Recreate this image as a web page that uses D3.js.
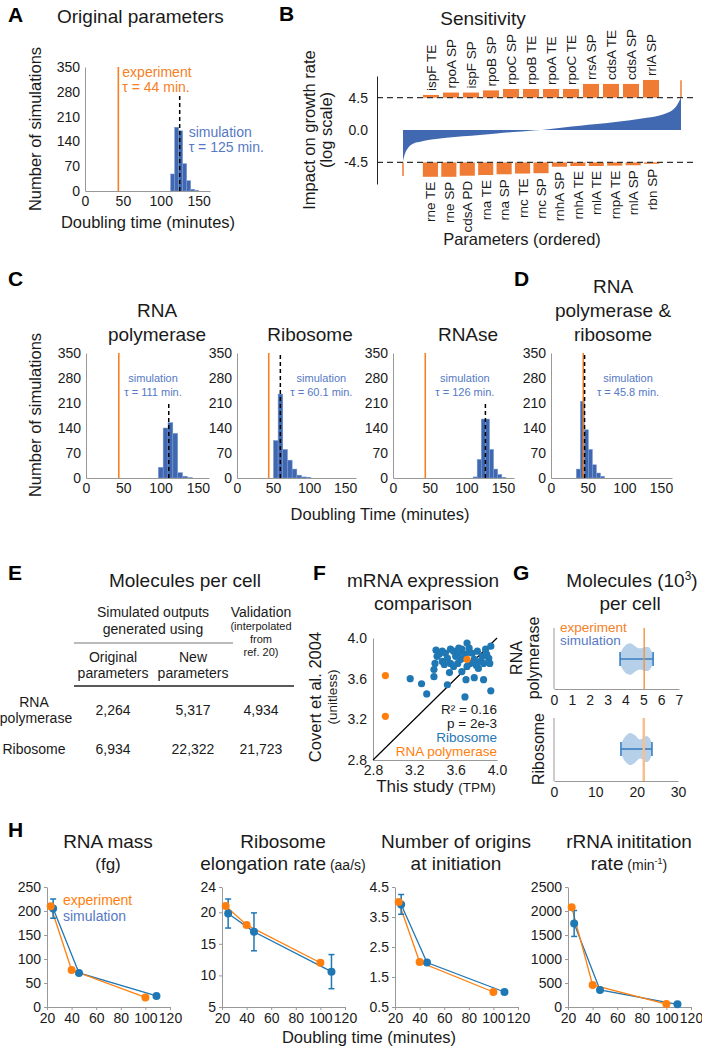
<!DOCTYPE html>
<html><head><meta charset="utf-8">
<script src="https://cdn.jsdelivr.net/npm/d3@7"></script>
<style>
body{margin:0;background:#fff;}
svg{display:block;font-family:"Liberation Sans",Arial,Helvetica,sans-serif;}
</style></head>
<body><svg id="fig" width="702" height="1050"></svg>
<script>
// ---------------- DATA ----------------
const histTicksY = [0,70,140,210,280,350];
const histTicksX = [0,50,100,150];
const experimentTau = 44;

const origEdges = [113,118.3,123.6,128.9,134.2,139.5,144.8,150.1];
const origCounts = [48,180,170,77,29,5,2];
const origMean = 125;

const rnapEdges = [97,103.5,110,116.5,123,129.5,136,142.5];
const rnapCounts = [30,140,155,125,15,5,1];
const rnapMean = 111;

const riboEdges = [50.5,57,63.5,70,76.5,83,89.5,96,102.5];
const riboCounts = [105,235,80,50,25,8,3,2];
const riboMean = 60.1;

const rnaseEdges = [109.2,114.8,120.4,126,131.6,137.2,142.8,148.4,154];
const rnaseCounts = [3,52,165,165,80,25,10,2];
const rnaseMean = 126;

const bothEdges = [34.5,40,45.5,51,56.5,62,67.5,73];
const bothCounts = [25,215,135,80,37,14,5];
const bothMean = 45.8;

// Panel B: sorted sensitivity curve
const sensRank = [0,0.6,1.8,3.6,6.6,9.6,15.6,21.6,27.6,33.7,39.7,45.7,49.9,57.7,63.7,69.7,75.7,81.7,87.7,93.8,97.4,99.2,100];
const sensImpact = [-4.3,-3.4,-2.5,-1.9,-1.6,-1.35,-1.06,-0.87,-0.68,-0.48,-0.29,-0.1,0,0.34,0.58,0.82,1.06,1.35,1.7,2.2,2.9,3.9,4.6];
const sensEdgeRank = [0,100];
const sensEdgeImpact = [-6.4,6.9];
const sensThreshold = 4.5;
const sensTicks = [-4.5,0,4.5];
const topParams = ["ispF TE","rpoA SP","ispF SP","rpoB SP","rpoC SP","rpoB TE","rpoA TE","rpoC TE","rrsA SP","cdsA TE","cdsA SP","rrlA SP"];
const topImpact = [4.87,5.2,5.2,5.5,5.7,5.7,5.7,5.7,6.4,6.4,6.4,6.95];
const bottomParams = ["rne TE","rne SP","cdsA PD","rna TE","rna SP","rnc TE","rnc SP","rnhA SP","rnhA TE","rnlA TE","rnpA TE","rnlA SP","rbn SP"];
const bottomImpact = [-6.5,-6.5,-6.35,-6.25,-6.15,-6.05,-6.0,-5.1,-5.0,-5.0,-4.95,-4.9,-4.7];

// Panel E
const tableRows = ["RNA polymerase","Ribosome"];
const tableOriginal = ["2,264","6,934"];
const tableNew = ["5,317","22,322"];
const tableValidation = ["4,934","21,723"];

// Panel F
const fTicks = [2.8,3.2,3.6,4.0];
const riboX = [3.16,3.27,3.32,3.39,3.39,3.40,3.41,3.42,3.44,3.47,3.50,3.52,3.55,3.55,3.58,3.60,3.63,3.62,3.65,3.66,3.69,3.71,3.73,3.74,3.71,3.76,3.78,3.80,3.82,3.84,3.86,3.87,3.89,3.90,3.92,3.93,3.94,3.78,3.52,3.69,3.87,3.94,3.54,3.58,3.66,3.70,3.73,3.47,3.49,3.81,3.63];
const riboY = [3.60,3.55,3.45,3.62,3.69,3.75,3.88,3.82,3.84,3.87,3.85,3.80,3.89,3.75,3.87,3.82,3.85,3.75,3.79,3.89,3.84,3.95,3.90,3.75,3.72,3.85,3.79,3.73,3.70,3.77,3.82,3.75,3.89,3.84,3.80,3.75,3.92,3.61,3.54,3.42,3.59,3.48,3.66,3.72,3.67,3.59,3.86,3.77,3.74,3.87,3.90];
const rnapX = [2.92,2.92,3.71];
const rnapY = [3.63,3.23,3.79];

// Panel G
const gRnapTicks = [0,1,2,3,4,5,6,7];
const gRnapVals = [3.72,3.9,4.1,4.3,4.5,4.7,4.9,5.1,5.3,5.45,5.55];
const gRnapDens = [0.38,0.73,0.94,0.98,0.83,0.69,0.67,0.75,0.73,0.52,0.3];
const gRnapRange = [3.7,5.55];
const gRnapExp = 5.05;
const gRiboTicks = [0,10,20,30];
const gRiboVals = [16.3,17.0,17.7,18.4,19.5,20.7,21.5,22.4,23.2,23.7];
const gRiboDens = [0.33,0.7,0.9,1.0,0.87,0.6,0.65,0.82,0.65,0.25];
const gRiboRange = [16.2,23.7];
const gRiboExp = 21.72;

// Panel H
const hTicksX = [20,40,60,80,100,120];
const hExpTime = [23,40,100];
const hSimTime = [25,46,109];
const rnaMassExp = [210,77,20];
const rnaMassSim = [205,71,23];
const rnaMassErr = [20,0,0];
const elongExp = [21,18,12];
const elongSim = [19.8,16.9,10.6];
const elongErr = [2.3,3,2.7];
const originsExp = [4,2,1];
const originsSim = [3.92,1.98,1.0];
const originsErr = [0.33,0,0];
const rrnaExp = [2080,460,60];
const rrnaSim = [1740,355,55];
const rrnaErr = [270,0,0];

// ---------------- STYLE ----------------
const FONT = '"Liberation Sans", Arial, Helvetica, sans-serif';
const ORANGE = "#f58025";
const HIST_BLUE = "#4068b0";
const ANNO_BLUE = "#5579c4";
const B_ORANGE = "#ef7b35";
const B_BLUE = "#4169b2";
const M_BLUE = "#1f77b4";
const M_ORANGE = "#ff7f0e";
const AXIS = "#999";
const INK = "#1a1a1a";

const svg = d3.select("#fig");
svg.append("rect").attr("width",702).attr("height",1050).attr("fill","#fff");

function txt(g, x, y, s, o = {}) {
  const t = g.append("text").attr("x", x).attr("y", y)
    .attr("font-size", o.size || 14).attr("fill", o.fill || INK)
    .attr("text-anchor", o.anchor || "start").text(s);
  if (o.weight) t.attr("font-weight", o.weight);
  if (o.rotate) t.attr("transform", `rotate(-90,${x},${y})`);
  return t;
}
function styleAxis(sel, size, color) {
  sel.attr("font-family", FONT).attr("font-size", size);
  sel.selectAll("text").attr("fill", INK);
  sel.select(".domain").attr("stroke", color).attr("stroke-width", 1);
  sel.selectAll(".tick line").attr("stroke", color);
}
function letter(x, y, s) { txt(svg, x, y, s, {size: 21, weight: "bold", fill: "#000"}); }

// ---------------- HISTOGRAMS (A, C, D) ----------------
function histPanel(cfg) {
  const g = svg.append("g");
  const x = d3.scaleLinear().domain([0,165]).range([cfg.left, cfg.right]);
  const y = d3.scaleLinear().domain([0,350]).range([cfg.bottom, cfg.top]);
  const bins = cfg.counts.map((c, i) => ({x0: cfg.edges[i], x1: cfg.edges[i+1], c}));
  g.selectAll("rect").data(bins).join("rect")
    .attr("x", d => x(d.x0)).attr("width", d => x(d.x1) - x(d.x0))
    .attr("y", d => y(d.c)).attr("height", d => y(0) - y(d.c))
    .attr("fill", HIST_BLUE).attr("stroke", "#7d9bd3").attr("stroke-width", 0.5);
  g.append("g").attr("transform", `translate(${cfg.left},0)`)
    .call(d3.axisLeft(y).tickValues(histTicksY).tickSize(0).tickPadding(5))
    .call(s => styleAxis(s, 14, AXIS));
  g.append("g").attr("transform", `translate(0,${cfg.bottom})`)
    .call(d3.axisBottom(x).tickValues(histTicksX).tickSize(0).tickPadding(5))
    .call(s => styleAxis(s, 14, AXIS));
  g.append("line").attr("x1", x(experimentTau)).attr("x2", x(experimentTau))
    .attr("y1", y(0)).attr("y2", y(350)).attr("stroke", ORANGE).attr("stroke-width", 1.6);
  g.append("line").attr("x1", x(cfg.mean)).attr("x2", x(cfg.mean))
    .attr("y1", y(0)).attr("y2", y(cfg.meanTop)).attr("stroke", "#000")
    .attr("stroke-width", 1.5).attr("stroke-dasharray", "4,3");
  return {g, x, y};
}

// A
letter(8, 22, "A");
txt(svg, 57, 23, "Original parameters", {size: 19});
{
  const {g, x, y} = histPanel({left: 85, right: 210, top: 67, bottom: 191,
    edges: origEdges, counts: origCounts, mean: origMean, meanTop: 270});
  txt(g, x(experimentTau) + 4, y(322), "experiment", {size: 14, fill: ORANGE});
  txt(g, x(experimentTau) + 4, y(279), "τ = " + experimentTau + " min.", {size: 14, fill: ORANGE});
  txt(g, x(origMean) + 9, y(152), "simulation", {size: 14, fill: ANNO_BLUE});
  txt(g, x(origMean) + 9, y(110), "τ = " + origMean + " min.", {size: 14, fill: ANNO_BLUE});
  txt(svg, 41, 129, "Number of simulations", {size: 16.5, anchor: "middle", rotate: true});
  txt(svg, 148, 228, "Doubling time (minutes)", {size: 16.5, anchor: "middle"});
}

// C & D
letter(8, 286, "C");
letter(514, 286, "D");
const cPanels = [
  {left: 86, right: 209, edges: rnapEdges, counts: rnapCounts, mean: rnapMean, meanTop: 212, annoMin: 90, tx: 157, title: ["RNA","polymerase"]},
  {left: 237, right: 356, edges: riboEdges, counts: riboCounts, mean: riboMean, meanTop: 350, annoMin: 117, tx: 310, title: ["Ribosome"]},
  {left: 393, right: 514, edges: rnaseEdges, counts: rnaseCounts, mean: rnaseMean, meanTop: 210, annoMin: 98, tx: 468, title: ["RNAse"]},
  {left: 551, right: 672, edges: bothEdges, counts: bothCounts, mean: bothMean, meanTop: 350, annoMin: 105, tx: 613, title: ["RNA","polymerase &","ribosome"]}
];
cPanels.forEach(p => {
  const {g, x, y} = histPanel(Object.assign({top: 353, bottom: 478}, p));
  p.title.forEach((t, i) => txt(svg, p.tx, 341 - (p.title.length - 1 - i) * 24, t, {size: 19, anchor: "middle"}));
  txt(g, x(p.annoMin), y(268), "simulation", {size: 11, fill: ANNO_BLUE, anchor: "middle"});
  txt(g, x(p.annoMin), y(231), "τ = " + p.mean + " min.", {size: 11, fill: ANNO_BLUE, anchor: "middle"});
});
txt(svg, 41, 415, "Number of simulations", {size: 16.5, anchor: "middle", rotate: true});
txt(svg, 380, 520, "Doubling Time (minutes)", {size: 16.5, anchor: "middle"});

// ---------------- B ----------------
letter(279, 21, "B");
txt(svg, 483, 25, "Sensitivity", {size: 19, anchor: "middle"});
{
  const g = svg.append("g");
  const bx = d3.scaleLinear().domain([0,100]).range([403,681]);
  const by = d3.scaleLinear().domain([-7.5,7.5]).range([184,76]);
  const curve = sensRank.map((r, i) => ({r, v: sensImpact[i]}));
  g.append("path").datum(curve)
    .attr("d", d3.area().x(d => bx(d.r)).y0(by(0)).y1(d => by(d.v)).curve(d3.curveMonotoneX))
    .attr("fill", B_BLUE);
  const tb = d3.scaleBand().domain(topParams).range([421,661]).paddingInner(0.2).paddingOuter(0.1);
  const bb = d3.scaleBand().domain(bottomParams).range([421,661]).paddingInner(0.18).paddingOuter(0.1);
  const top = topParams.map((p, i) => ({p, v: topImpact[i]}));
  const bot = bottomParams.map((p, i) => ({p, v: bottomImpact[i]}));
  g.selectAll(".tb").data(top).join("rect").attr("class","tb")
    .attr("x", d => tb(d.p)).attr("width", tb.bandwidth())
    .attr("y", d => by(d.v)).attr("height", d => by(sensThreshold) - by(d.v)).attr("fill", B_ORANGE);
  g.selectAll(".bb").data(bot).join("rect").attr("class","bb")
    .attr("x", d => bb(d.p)).attr("width", bb.bandwidth())
    .attr("y", by(-sensThreshold)).attr("height", d => by(d.v) - by(-sensThreshold)).attr("fill", B_ORANGE);
  sensEdgeRank.forEach((r, i) => {
    g.append("line").attr("x1", bx(r)).attr("x2", bx(r))
      .attr("y1", by(Math.sign(sensEdgeImpact[i]) * sensThreshold)).attr("y2", by(sensEdgeImpact[i]))
      .attr("stroke", B_ORANGE).attr("stroke-width", 1.5);
  });
  top.forEach(d => txt(g, tb(d.p) + tb.bandwidth()/2 + 5, by(d.v) - 4, d.p, {size: 13.5, rotate: true}));
  bot.forEach(d => txt(g, bb(d.p) + bb.bandwidth()/2 + 5, by(d.v) + 5, d.p, {size: 13.5, rotate: true, anchor: "end"}));
  [sensThreshold, -sensThreshold].forEach(v => {
    g.append("line").attr("x1", 377).attr("x2", 693).attr("y1", by(v)).attr("y2", by(v))
      .attr("stroke", "#333").attr("stroke-width", 1.2).attr("stroke-dasharray", "6,4");
  });
  g.append("g").attr("transform", "translate(377,0)")
    .call(d3.axisLeft(by).tickValues(sensTicks).tickFormat(d => d.toFixed(1)).tickSize(0).tickPadding(9).tickSizeOuter(0))
    .call(s => styleAxis(s, 14, "#222"));
  txt(svg, 315, 130, "Impact on growth rate", {size: 16.5, anchor: "middle", rotate: true});
  txt(svg, 332, 130, "(log scale)", {size: 16.5, anchor: "middle", rotate: true});
  txt(svg, 522, 245, "Parameters (ordered)", {size: 16.5, anchor: "middle"});
}

// ---------------- E ----------------
letter(8, 580, "E");
{
  const g = svg.append("g");
  txt(g, 185, 587, "Molecules per cell", {size: 19, anchor: "middle"});
  txt(g, 153, 617, "Simulated outputs", {size: 14, anchor: "middle"});
  txt(g, 153, 634, "generated using", {size: 14, anchor: "middle"});
  g.append("line").attr("x1", 74).attr("x2", 233).attr("y1", 643).attr("y2", 643).attr("stroke", "#777").attr("stroke-width", 1);
  txt(g, 261, 617, "Validation", {size: 14, anchor: "middle"});
  txt(g, 261, 630, "(interpolated", {size: 11, anchor: "middle"});
  txt(g, 261, 643, "from", {size: 11, anchor: "middle"});
  txt(g, 261, 656, "ref. 20)", {size: 11, anchor: "middle"});
  txt(g, 113, 662, "Original", {size: 14, anchor: "middle"});
  txt(g, 113, 678, "parameters", {size: 14, anchor: "middle"});
  txt(g, 193, 662, "New", {size: 14, anchor: "middle"});
  txt(g, 193, 678, "parameters", {size: 14, anchor: "middle"});
  g.append("line").attr("x1", 74).attr("x2", 294).attr("y1", 686).attr("y2", 686).attr("stroke", "#222").attr("stroke-width", 1.4);
  const rowY = [715, 754];
  tableRows.forEach((r, i) => {
    const parts = r.split(" ");
    if (parts.length > 1) {
      txt(g, 34, rowY[i] - 8, parts[0], {size: 14, anchor: "middle"});
      txt(g, 36, rowY[i] + 8, parts.slice(1).join(" "), {size: 14, anchor: "middle"});
    } else {
      txt(g, 34, rowY[i], r, {size: 14, anchor: "middle"});
    }
    txt(g, 113, rowY[i], tableOriginal[i], {size: 14, anchor: "middle"});
    txt(g, 193, rowY[i], tableNew[i], {size: 14, anchor: "middle"});
    txt(g, 261, rowY[i], tableValidation[i], {size: 14, anchor: "middle"});
  });
}

// ---------------- F ----------------
letter(313, 580, "F");
{
  const g = svg.append("g");
  txt(g, 423, 587, "mRNA expression", {size: 19, anchor: "middle"});
  txt(g, 423, 610, "comparison", {size: 19, anchor: "middle"});
  const x = d3.scaleLinear().domain([2.8,4.0]).range([373,497]);
  const y = d3.scaleLinear().domain([2.8,4.0]).range([760,638]);
  g.append("g").attr("transform", "translate(373,0)")
    .call(d3.axisLeft(y).tickValues(fTicks).tickFormat(d3.format(".1f")).tickSize(0).tickPadding(6))
    .call(s => styleAxis(s, 14, AXIS));
  g.append("g").attr("transform", "translate(0,760)")
    .call(d3.axisBottom(x).tickValues(fTicks).tickFormat(d3.format(".1f")).tickSize(0).tickPadding(5))
    .call(s => styleAxis(s, 14, AXIS));
  g.append("line").attr("x1", x(2.8)).attr("y1", y(2.8)).attr("x2", x(4.0)).attr("y2", y(4.0))
    .attr("stroke", "#000").attr("stroke-width", 1.2);
  g.selectAll(".rb").data(riboX.map((v, i) => [v, riboY[i]])).join("circle").attr("class","rb")
    .attr("cx", d => x(d[0])).attr("cy", d => y(d[1])).attr("r", 3.6).attr("fill", M_BLUE);
  g.selectAll(".rp").data(rnapX.map((v, i) => [v, rnapY[i]])).join("circle").attr("class","rp")
    .attr("cx", d => x(d[0])).attr("cy", d => y(d[1])).attr("r", 3.6).attr("fill", M_ORANGE);
  txt(g, 497, 714, "R² = 0.16", {size: 13.5, anchor: "end"});
  txt(g, 497, 728, "p = 2e-3", {size: 13.5, anchor: "end"});
  txt(g, 497, 742, "Ribosome", {size: 13.5, anchor: "end", fill: M_BLUE});
  txt(g, 497, 756, "RNA polymerase", {size: 13.5, anchor: "end", fill: M_ORANGE});
  const xl = g.append("text").attr("x", 436).attr("y", 792).attr("text-anchor", "middle").attr("fill", INK);
  xl.append("tspan").attr("font-size", 17).text("This study ");
  xl.append("tspan").attr("font-size", 13.5).text("(TPM)");
  txt(g, 321, 697, "Covert et al. 2004", {size: 16.5, anchor: "middle", rotate: true});
  txt(g, 337, 697, "(unitless)", {size: 13.5, anchor: "middle", rotate: true});
}

// ---------------- G ----------------
letter(513, 580, "G");
{
  const g = svg.append("g");
  const t1 = g.append("text").attr("x", 632).attr("y", 587).attr("text-anchor", "middle").attr("font-size", 19).attr("fill", INK);
  t1.append("tspan").text("Molecules (10");
  t1.append("tspan").attr("font-size", 12).attr("dy", -7).text("3");
  t1.append("tspan").attr("dy", 7).text(")");
  txt(g, 630, 610, "per cell", {size: 19, anchor: "middle"});
  function violin(cfg) {
    const x = d3.scaleLinear().domain(cfg.domain).range([554, cfg.right]);
    const w = d3.scaleLinear().domain([0,1]).range([0,16]);
    g.append("g").attr("transform", `translate(0,${cfg.bottom})`)
      .call(d3.axisBottom(x).tickValues(cfg.ticks).tickFormat(d3.format("d")).tickSize(0).tickPadding(6))
      .call(s => styleAxis(s, 14, AXIS));
    g.append("line").attr("x1", 554).attr("x2", 554).attr("y1", cfg.top).attr("y2", cfg.bottom).attr("stroke", AXIS);
    const pts = cfg.vals.map((v, i) => ({v, d: cfg.dens[i]}));
    g.append("path").datum(pts)
      .attr("d", d3.area().x(d => x(d.v)).y0(d => cfg.cy + w(d.d)).y1(d => cfg.cy - w(d.d)).curve(d3.curveCatmullRom))
      .attr("fill", "#aecbe8").attr("opacity", 0.9);
    g.append("line").attr("x1", x(cfg.range[0])).attr("x2", x(cfg.range[1])).attr("y1", cfg.cy).attr("y2", cfg.cy)
      .attr("stroke", "#3a7fc1").attr("stroke-width", 1.6);
    cfg.range.forEach(r => g.append("line").attr("x1", x(r)).attr("x2", x(r)).attr("y1", cfg.cy - 7).attr("y2", cfg.cy + 7)
      .attr("stroke", "#3a7fc1").attr("stroke-width", 1.6));
    g.append("line").attr("x1", x(cfg.exp)).attr("x2", x(cfg.exp)).attr("y1", cfg.top).attr("y2", cfg.bottom)
      .attr("stroke", cfg.expColor).attr("stroke-width", cfg.expWidth);
  }
  violin({domain: [0,7], right: 679, top: 628, bottom: 689, cy: 659, ticks: gRnapTicks,
    vals: gRnapVals, dens: gRnapDens, range: gRnapRange, exp: gRnapExp, expColor: "#f5903a", expWidth: 1.4});
  violin({domain: [0,30], right: 678, top: 718, bottom: 781, cy: 749, ticks: gRiboTicks,
    vals: gRiboVals, dens: gRiboDens, range: gRiboRange, exp: gRiboExp, expColor: "#f8bf8c", expWidth: 2.5});
  txt(g, 560, 632, "experiment", {size: 13.5, fill: ORANGE});
  txt(g, 560, 645, "simulation", {size: 13.5, fill: ANNO_BLUE});
  txt(g, 522, 658, "RNA", {size: 16, anchor: "middle", rotate: true});
  txt(g, 539, 658, "polymerase", {size: 16, anchor: "middle", rotate: true});
  txt(g, 544, 749, "Ribosome", {size: 16, anchor: "middle", rotate: true});
}

// ---------------- H ----------------
letter(8, 837, "H");
function hPanel(cfg) {
  const g = svg.append("g");
  const x = d3.scaleLinear().domain([20,120]).range([cfg.left, cfg.left + 123]);
  const y = d3.scaleLinear().domain(cfg.yDomain).range([1007, 887]);
  g.append("g").attr("transform", `translate(${cfg.left},0)`)
    .call(d3.axisLeft(y).tickValues(cfg.yTicks).tickFormat(cfg.fmt || (d => String(d))).tickSize(3).tickSizeOuter(0).tickPadding(3))
    .call(s => styleAxis(s, 14, AXIS));
  g.append("g").attr("transform", "translate(0,1007)")
    .call(d3.axisBottom(x).tickValues(hTicksX).tickFormat(d3.format("d")).tickSize(3).tickSizeOuter(0).tickPadding(3))
    .call(s => styleAxis(s, 14, AXIS));
  const sim = hSimTime.map((t, i) => ({t, v: cfg.sim[i], e: cfg.err[i]}));
  const exp = hExpTime.map((t, i) => ({t, v: cfg.exp[i]}));
  const line = d3.line().x(d => x(d.t)).y(d => y(d.v));
  g.append("path").datum(sim).attr("d", line).attr("fill", "none").attr("stroke", M_BLUE).attr("stroke-width", 1.3);
  g.append("path").datum(exp).attr("d", line).attr("fill", "none").attr("stroke", M_ORANGE).attr("stroke-width", 1.3);
  sim.filter(d => d.e > 0).forEach(d => {
    const cx = x(d.t);
    g.append("line").attr("x1", cx).attr("x2", cx).attr("y1", y(d.v - d.e)).attr("y2", y(d.v + d.e)).attr("stroke", M_BLUE).attr("stroke-width", 1.5);
    [d.v - d.e, d.v + d.e].forEach(v => g.append("line").attr("x1", cx - 3).attr("x2", cx + 3).attr("y1", y(v)).attr("y2", y(v)).attr("stroke", M_BLUE).attr("stroke-width", 1.5));
  });
  g.selectAll(".hs").data(sim).join("circle").attr("class","hs").attr("cx", d => x(d.t)).attr("cy", d => y(d.v)).attr("r", 4).attr("fill", M_BLUE);
  g.selectAll(".he").data(exp).join("circle").attr("class","he").attr("cx", d => x(d.t)).attr("cy", d => y(d.v)).attr("r", 4).attr("fill", M_ORANGE);
  const cx = cfg.left + 61;
  txt(g, cx, 848, cfg.title[0], {size: 19, anchor: "middle"});
  const t2 = g.append("text").attr("x", cx).attr("y", 870).attr("text-anchor", "middle").attr("fill", INK);
  t2.append("tspan").attr("font-size", cfg.title2Size || 19).text(cfg.title[1]);
  if (cfg.unit) {
    t2.append("tspan").attr("font-size", 14).text(" " + cfg.unit);
    if (cfg.unitSup) {
      t2.append("tspan").attr("font-size", 9).attr("dy", -6).text(cfg.unitSup);
      t2.append("tspan").attr("font-size", 14).attr("dy", 6).text(")");
    }
  }
  return {g, x, y};
}
{
  const {g} = hPanel({left: 47, yDomain: [0,250], yTicks: [0,50,100,150,200,250], sim: rnaMassSim, err: rnaMassErr, exp: rnaMassExp, title: ["RNA mass","(fg)"], title2Size: 17});
  txt(g, 63, 905, "experiment", {size: 14, fill: M_ORANGE});
  txt(g, 63, 921, "simulation", {size: 14, fill: ANNO_BLUE});
}
hPanel({left: 222, yDomain: [5,24], yTicks: [5,10,15,20,24], sim: elongSim, err: elongErr, exp: elongExp, title: ["Ribosome","elongation rate"], unit: "(aa/s)"});
hPanel({left: 395, yDomain: [0.5,4.5], yTicks: [0.5,1.5,2.5,3.5,4.5], fmt: d3.format(".1f"), sim: originsSim, err: originsErr, exp: originsExp, title: ["Number of origins","at initiation"]});
hPanel({left: 568, yDomain: [0,2500], yTicks: [0,500,1000,1500,2000,2500], sim: rrnaSim, err: rrnaErr, exp: rrnaExp, title: ["rRNA inititation","rate"], unit: "(min", unitSup: "-1"});
txt(svg, 369, 1043, "Doubling time (minutes)", {size: 16.5, anchor: "middle"});
</script>
</body></html>
